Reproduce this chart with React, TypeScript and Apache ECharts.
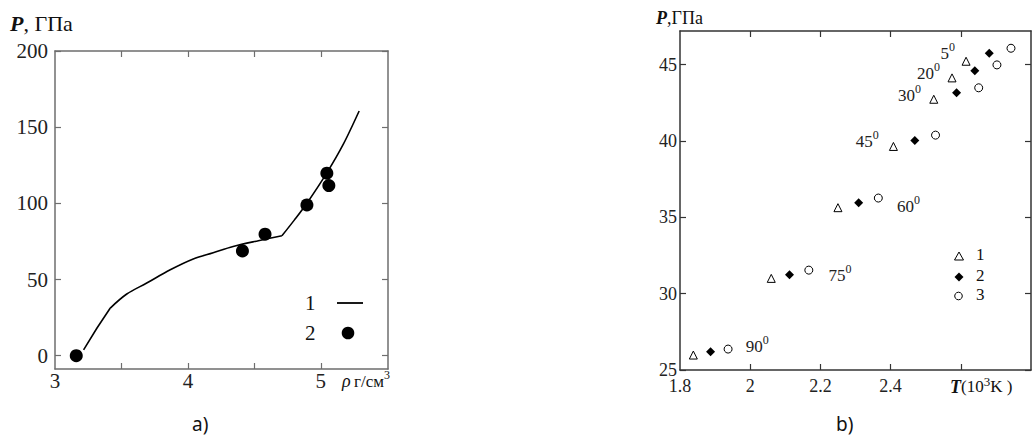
import React, { useEffect, useRef } from "react";
import * as echarts from "echarts";

// ---------- Panel a) data ----------
const curveStart: [number, number][] = [
  [3.215, 3.9], [3.316, 18.2], [3.416, 31.3],
];
const curveMiddle: [number, number][] = [
  [3.416, 31.3], [3.54, 40.5], [3.69, 47.7], [3.867, 56.4], [4.04, 63.5],
  [4.19, 67.6], [4.34, 71.7], [4.53, 75.5], [4.707, 78.7],
];
const curveEnd: [number, number][] = [
  [4.707, 78.7], [4.8, 89], [4.895, 100.1], [5.045, 120], [5.17, 139],
  [5.288, 160.6],
];
const densityPoints: [number, number][] = [
  [3.16, 0], [4.41, 68.8], [4.58, 79.8], [4.895, 99], [5.045, 119.8], [5.06, 111.7],
];
const aXTicks = [3.5, 4, 4.5, 5];
const aXLabels = [3, 4, 5];
const aYTicks = [0, 50, 100, 150, 200];

// ---------- Panel b) data ----------
const series1: [number, number][] = [
  [1.838, 25.98], [2.06, 31.0], [2.25, 35.63], [2.408, 39.64], [2.523, 42.73], [2.575, 44.13], [2.615, 45.22],
];
const series2: [number, number][] = [
  [1.887, 26.2], [2.112, 31.23], [2.309, 35.96], [2.469, 40.03], [2.588, 43.15], [2.64, 44.6], [2.681, 45.74],
];
const series3: [number, number][] = [
  [1.937, 26.37], [2.167, 31.54], [2.365, 36.26], [2.528, 40.38], [2.651, 43.48], [2.703, 44.98], [2.743, 46.07],
];
const angleNames = ["5", "20", "30", "45", "60", "75", "90"];
const anglePositions: [number, number][] = [
  [2.542, 45.7], [2.475, 44.39], [2.421, 42.97], [2.301, 39.97], [2.418, 35.73], [2.223, 31.21], [1.987, 26.52],
];
const bXTicks = [2, 2.2, 2.4, 2.6];
const bXLabels = [1.8, 2, 2.2, 2.4];
const bYTicks = [25, 30, 35, 40, 45];

const SERIF = "Liberation Serif";
const SANS = "Noto Sans";

function makeAxis(o: any) {
  const labelStyle = {
    show: true,
    margin: o.margin,
    fontFamily: SERIF,
    fontSize: o.fontSize,
    color: "#222",
  };
  return {
    type: "value",
    gridIndex: o.grid,
    position: o.position,
    min: o.min,
    max: o.max,
    interval: o.interval,
    axisLine: { show: true, onZero: false, lineStyle: { color: o.color, width: 1.5 } },
    axisTick: {
      show: true,
      inside: true,
      length: 6,
      customValues: o.ticks,
      lineStyle: { color: o.color, width: 1.2 },
    },
    axisLabel: o.labels
      ? o.interval
        ? {
            ...labelStyle,
            showMinLabel: true,
            showMaxLabel: true,
            hideOverlap: false,
            formatter: (v: number) => {
              const hit = o.labels.find((l: number) => Math.abs(l - v) < 1e-6);
              return hit === undefined ? "" : String(hit);
            },
          }
        : { ...labelStyle, customValues: o.labels }
      : { show: false },
    splitLine: { show: false },
  };
}

function curveSeries(data: [number, number][], smooth: number) {
  return {
    name: "1",
    type: "line",
    xAxisIndex: 0,
    yAxisIndex: 0,
    data,
    smooth,
    showSymbol: false,
    symbol: "none",
    lineStyle: { color: "#000", width: 1.6 },
  };
}

export default function App() {
  const ref = useRef<HTMLDivElement>(null);
  useEffect(() => {
    if (!ref.current) return;
    const chart = echarts.init(ref.current, null, { renderer: "svg" });
    const aColor = "#6e6e6e";
    const bColor = "#333";
    const option: any = {
      animation: false,
      backgroundColor: "#fff",
      textStyle: { fontFamily: SERIF },
      grid: [
        { left: 55, top: 51, width: 333, height: 318 },
        { left: 680, top: 31, width: 352, height: 339 },
      ],
      xAxis: [
        makeAxis({ grid: 0, position: "bottom", min: 3, max: 5.505, color: aColor, ticks: aXTicks, labels: aXLabels, margin: 1, fontSize: 21 }),
        makeAxis({ grid: 0, position: "top", min: 3, max: 5.505, color: aColor, ticks: aXTicks }),
        makeAxis({ grid: 1, position: "bottom", min: 1.8, max: 2.8, interval: 0.2, color: bColor, ticks: bXTicks, labels: bXLabels, margin: 7, fontSize: 18 }),
        makeAxis({ grid: 1, position: "top", min: 1.8, max: 2.8, color: bColor, ticks: bXTicks }),
      ],
      yAxis: [
        makeAxis({ grid: 0, position: "left", min: -8.7, max: 200, color: aColor, ticks: aYTicks, labels: aYTicks, margin: 7, fontSize: 21 }),
        makeAxis({ grid: 0, position: "right", min: -8.7, max: 200, color: aColor, ticks: aYTicks }),
        makeAxis({ grid: 1, position: "left", min: 25, max: 47.2, interval: 5, color: bColor, ticks: bYTicks, labels: bYTicks, margin: 3, fontSize: 18 }),
        makeAxis({ grid: 1, position: "right", min: 25, max: 47.2, color: bColor, ticks: bYTicks }),
      ],
      series: [
        curveSeries(curveStart, 0),
        curveSeries(curveMiddle, 0.35),
        curveSeries(curveEnd, 0.3),
        {
          name: "2",
          type: "scatter",
          xAxisIndex: 0,
          yAxisIndex: 0,
          data: densityPoints,
          symbol: "circle",
          symbolSize: 13,
          itemStyle: { color: "#000", opacity: 1 },
        },
        {
          name: "b1",
          type: "scatter",
          xAxisIndex: 2,
          yAxisIndex: 2,
          data: series1,
          symbol: "triangle",
          symbolSize: 8,
          itemStyle: { color: "#fff", borderColor: "#000", borderWidth: 1, opacity: 1 },
        },
        {
          name: "b2",
          type: "scatter",
          xAxisIndex: 2,
          yAxisIndex: 2,
          data: series2,
          symbol: "diamond",
          symbolSize: 9,
          itemStyle: { color: "#000", opacity: 1 },
        },
        {
          name: "b3",
          type: "scatter",
          xAxisIndex: 2,
          yAxisIndex: 2,
          data: series3,
          symbol: "circle",
          symbolSize: 8,
          itemStyle: { color: "#fff", borderColor: "#000", borderWidth: 1, opacity: 1 },
        },
        {
          name: "angles",
          type: "scatter",
          xAxisIndex: 2,
          yAxisIndex: 2,
          symbolSize: 0,
          silent: true,
          itemStyle: { opacity: 1 },
          data: anglePositions.map((p, i) => ({ value: p, name: angleNames[i] })),
          label: {
            show: true,
            position: "right",
            distance: 0,
            formatter: (p: any) => `{a|${p.name}}{s|0}`,
            rich: {
              a: { fontFamily: SERIF, fontSize: 17, lineHeight: 17, color: "#222" },
              s: { fontFamily: SERIF, fontSize: 12, lineHeight: 12, padding: [0, 0, 13, 0], color: "#222" },
            },
          },
        },
      ],
      graphic: [
        {
          type: "text", left: 10, top: 12,
          style: {
            text: "{p|P}{t|, ГПа}",
            rich: {
              p: { fontFamily: SERIF, fontSize: 22, fontWeight: "bold", fontStyle: "italic", fill: "#111" },
              t: { fontFamily: SERIF, fontSize: 22, fill: "#111" },
            },
          },
        },
        {
          type: "text", left: 342, top: 369,
          style: {
            text: "{r|ρ} {t|г/см}{s|3}",
            rich: {
              r: { fontFamily: SERIF, fontSize: 18, fontStyle: "italic", fill: "#111" },
              t: { fontFamily: SERIF, fontSize: 17, fill: "#111" },
              s: { fontFamily: SERIF, fontSize: 12, padding: [0, 0, 12, 0], fill: "#111" },
            },
          },
        },
        { type: "text", left: 305, top: 292, style: { text: "1", fontFamily: SERIF, fontSize: 21, fill: "#111" } },
        { type: "line", shape: { x1: 337, y1: 303, x2: 363, y2: 303 }, style: { stroke: "#000", lineWidth: 1.8 } },
        { type: "text", left: 305, top: 322, style: { text: "2", fontFamily: SERIF, fontSize: 21, fill: "#111" } },
        { type: "circle", shape: { cx: 348, cy: 333, r: 6.3 }, style: { fill: "#000" } },
        {
          type: "text", left: 656, top: 9,
          style: {
            text: "{p|P}{t|,ГПа}",
            rich: {
              p: { fontFamily: SERIF, fontSize: 18, fontWeight: "bold", fontStyle: "italic", fill: "#111" },
              t: { fontFamily: SERIF, fontSize: 18, fill: "#111" },
            },
          },
        },
        {
          type: "text", left: 950, top: 375,
          style: {
            text: "{p|T}{t|(10}{s|3}{t|K )}",
            rich: {
              p: { fontFamily: SERIF, fontSize: 18, fontWeight: "bold", fontStyle: "italic", fill: "#111" },
              t: { fontFamily: SERIF, fontSize: 17, fill: "#111" },
              s: { fontFamily: SERIF, fontSize: 13, padding: [0, 0, 10, 0], fill: "#111" },
            },
          },
        },
        { type: "polygon", shape: { points: [[959, 252], [963.5, 260], [954.5, 260]] }, style: { fill: "#fff", stroke: "#000", lineWidth: 1 } },
        { type: "text", left: 976, top: 246, style: { text: "1", fontFamily: SERIF, fontSize: 17, fill: "#111" } },
        { type: "polygon", shape: { points: [[959, 272.5], [963.5, 277], [959, 281.5], [954.5, 277]] }, style: { fill: "#000" } },
        { type: "text", left: 976, top: 267, style: { text: "2", fontFamily: SERIF, fontSize: 17, fill: "#111" } },
        { type: "circle", shape: { cx: 958.5, cy: 296, r: 3.8 }, style: { fill: "#fff", stroke: "#000", lineWidth: 1 } },
        { type: "text", left: 976, top: 286, style: { text: "3", fontFamily: SERIF, fontSize: 17, fill: "#111" } },
        { type: "text", left: 192, top: 414, style: { text: "a)", fontFamily: SANS, fontSize: 19, fill: "#111" } },
        { type: "text", left: 836, top: 414, style: { text: "b)", fontFamily: SANS, fontSize: 19, fill: "#111" } },
      ],
    };
    chart.setOption(option);
    return () => chart.dispose();
  }, []);
  return (
    <div
      ref={ref}
      style={{ position: "fixed", left: 0, top: 0, width: 1034, height: 443, background: "#fff" }}
    />
  );
}
